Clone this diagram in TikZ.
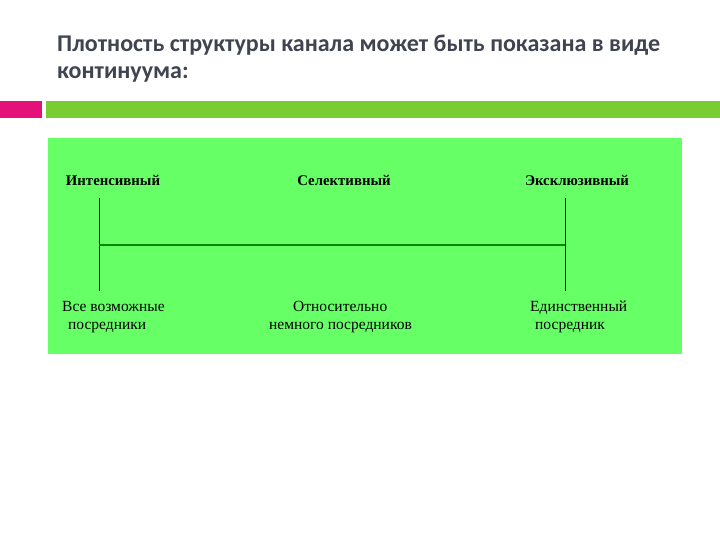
\documentclass[tikz,border=0pt]{standalone}
\usepackage{fontspec}
\setmainfont{Liberation Serif}
\newfontfamily\titlefont{Carlito}
\definecolor{titlegray}{HTML}{3F4450}
\definecolor{barpink}{HTML}{E5117A}
\definecolor{bargreen}{HTML}{7ACC33}
\definecolor{boxgreen}{HTML}{66FF66}
\definecolor{linegreen}{HTML}{008800}
\begin{document}
\begin{tikzpicture}[x=1pt,y=-1pt,
  toplabel/.style={font=\fontsize{14.8}{17}\selectfont\bfseries, inner sep=0pt, anchor=base},
  botlabel/.style={font=\fontsize{15.5}{18}\selectfont, inner sep=0pt, anchor=north west, align=left},
  titletext/.style={font=\titlefont\fontsize{24}{27}\selectfont\bfseries, text=titlegray, inner sep=0pt, anchor=north west, align=left}]
\useasboundingbox (0,0) rectangle (720,540);
\fill[white] (0,0) rectangle (720,540);
\node[titletext] (title) at (57,35) {Плотность структуры канала может быть показана в виде\\континуума:};
\fill[barpink] (0,101) rectangle (42,118);
\fill[bargreen] (46,101) rectangle (720,118);
\fill[boxgreen] (48,138) rectangle (682,354);
\node[toplabel] (int) at (113,186) {Интенсивный};
\node[toplabel] (sel) at (344,186) {Селективный};
\node[toplabel] (exc) at (577,186) {Эксклюзивный};
\coordinate (lt) at (99,198);
\coordinate (lb) at (99,291);
\coordinate (rt) at (565,198);
\coordinate (rb) at (565,291);
\coordinate (ml) at (99,245);
\coordinate (mr) at (565,245);
\draw[black, line width=0.8pt] (lt) -- (lb);
\draw[black, line width=0.8pt] (rt) -- (rb);
\draw[linegreen, line width=1.6pt] (ml) -- (mr);
\node[botlabel] (all) at (62,301) {Все возможные\\\hspace*{6pt}посредники};
\node[botlabel] (few) at (269,301) {\hspace*{24pt}Относительно\\немного посредников};
\node[botlabel] (one) at (530,301) {Единственный\\\hspace*{5pt}посредник};
\end{tikzpicture}
\end{document}
